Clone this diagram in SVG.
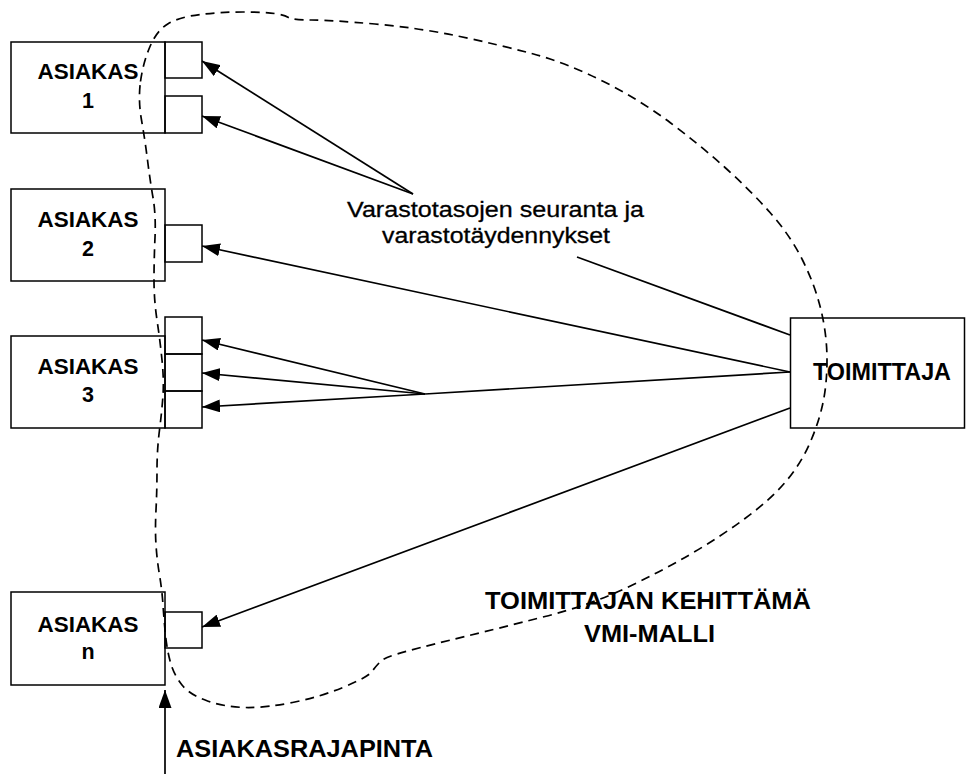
<svg xmlns="http://www.w3.org/2000/svg" width="966" height="774" viewBox="0 0 966 774">
  <style>
    .box { fill: none; stroke: #000; stroke-width: 1.5; }
    .lbl { font-family: "Liberation Sans", Arial, sans-serif; font-weight: bold; font-size: 21.5px; fill: #000; }
    .big { font-size: 24px; }
    .note { font-family: "Liberation Sans", Arial, sans-serif; font-size: 22px; fill: #000; stroke: #000; stroke-width: 0.3; }
    .conn { stroke: #000; stroke-width: 1.7; fill: none; }
    .arrow { marker-end: url(#head); }
    .boundary { fill: none; stroke: #000; stroke-width: 1.7; stroke-dasharray: 9 6; }
  </style>
  <defs>
    <marker id="head" markerUnits="userSpaceOnUse" markerWidth="18" markerHeight="13" refX="18" refY="6.5" orient="auto">
      <path d="M0,0 L18,6.5 L0,13 Z" fill="#000"/>
    </marker>
  </defs>
  <rect width="966" height="774" fill="#fff"/>

  <!-- customers, each with its interface slots -->
  <g id="asiakas-1">
    <rect class="box" x="11" y="42" width="154" height="91"/>
    <rect class="box" x="165" y="42" width="37" height="36"/>
    <rect class="box" x="165" y="96" width="37" height="37"/>
    <text class="lbl" x="88" y="79" text-anchor="middle" textLength="101" lengthAdjust="spacingAndGlyphs">ASIAKAS</text>
    <text class="lbl" x="88" y="108" text-anchor="middle">1</text>
  </g>
  <g id="asiakas-2">
    <rect class="box" x="11" y="189" width="154" height="92"/>
    <rect class="box" x="165" y="225" width="37" height="37"/>
    <text class="lbl" x="88" y="227" text-anchor="middle" textLength="101" lengthAdjust="spacingAndGlyphs">ASIAKAS</text>
    <text class="lbl" x="88" y="256" text-anchor="middle">2</text>
  </g>
  <g id="asiakas-3">
    <rect class="box" x="11" y="336" width="154" height="92"/>
    <rect class="box" x="165" y="317" width="37" height="37"/>
    <rect class="box" x="165" y="354" width="37" height="37"/>
    <rect class="box" x="165" y="391" width="37" height="37"/>
    <text class="lbl" x="88" y="374" text-anchor="middle" textLength="101" lengthAdjust="spacingAndGlyphs">ASIAKAS</text>
    <text class="lbl" x="88" y="402" text-anchor="middle">3</text>
  </g>
  <g id="asiakas-n">
    <rect class="box" x="11" y="592" width="154" height="93"/>
    <rect class="box" x="165" y="612" width="37" height="36"/>
    <text class="lbl" x="88" y="632" text-anchor="middle" textLength="101" lengthAdjust="spacingAndGlyphs">ASIAKAS</text>
    <text class="lbl" x="88" y="659" text-anchor="middle">n</text>
  </g>

  <!-- supplier -->
  <g id="toimittaja">
    <rect class="box" x="790.5" y="318" width="174" height="110"/>
    <text class="lbl big" x="813" y="380" textLength="138" lengthAdjust="spacingAndGlyphs">TOIMITTAJA</text>
  </g>

  <!-- connectors -->
  <g id="connectors">
    <line class="conn arrow" x1="413" y1="194" x2="202" y2="61"/>
    <line class="conn arrow" x1="413" y1="194" x2="202" y2="116"/>
    <line class="conn" x1="577" y1="257" x2="790" y2="335"/>
    <line class="conn arrow" x1="790" y1="372" x2="202" y2="246"/>
    <line class="conn" x1="790" y1="372" x2="425" y2="394"/>
    <line class="conn arrow" x1="425" y1="394" x2="202" y2="340"/>
    <line class="conn arrow" x1="425" y1="394" x2="202" y2="373"/>
    <line class="conn arrow" x1="425" y1="394" x2="202" y2="407"/>
    <line class="conn arrow" x1="790" y1="408" x2="202" y2="627"/>
    <line class="conn arrow" x1="165" y1="774" x2="165" y2="690"/>
  </g>

  <!-- dashed boundary of the VMI model -->
  <path id="vmi-boundary" class="boundary" d="M140.5,81.5
    Q143,63 150,46.5 Q157,30 168.5,23.5 Q180,17 200,14.5 Q220,12 242.5,12 Q265,12 274.5,13.5
    Q284,15 288.5,17.5 Q293,20 311.5,20 Q330,20 375,24 Q420,28 460,36.5 Q500,45 533.5,54
    Q567,63 603.5,81.5 Q640,100 670,122.5 Q700,145 725,167.5 Q750,190 770,212.5
    Q790,235 802.5,260 Q815,285 821,310 Q827,335 827,360 Q827,385 822.5,405
    Q818,425 809,445 Q800,465 785,482.5 Q770,500 745,518.5 Q720,537 690,554.5
    Q660,572 625,588.5 Q590,605 545,616.5 Q500,628 465,636.5 Q430,645 407.5,651
    Q385,657 380.5,661.5 Q376,666 372,671.5 Q368,677 344,687 Q320,697 292.5,702.5
    Q265,708 245,707.5 Q225,707 207.5,701 Q190,695 182,685 Q174,675 170.5,662.5
    Q167,650 165.5,635 Q164,620 163,605 Q162,590 159.5,575 Q157,560 156,545
    Q155,530 156,510 Q157,490 157,470 Q157,450 159.5,430 Q162,410 163,395
    Q164,380 162,360 Q160,340 157,320 Q154,300 154,280 Q154,260 155,237.5
    Q156,215 153,197.5 Q150,180 147.5,160 Q145,140 141.5,120 Q138,100 140.5,81.5 Z"/>

  <!-- free labels -->
  <text class="note" x="347" y="217" textLength="297" lengthAdjust="spacingAndGlyphs">Varastotasojen seuranta ja</text>
  <text class="note" x="382" y="243" textLength="228" lengthAdjust="spacingAndGlyphs">varastotäydennykset</text>
  <text class="lbl big" x="485" y="609" textLength="326" lengthAdjust="spacingAndGlyphs">TOIMITTAJAN KEHITTÄMÄ</text>
  <text class="lbl big" x="584" y="642" textLength="131" lengthAdjust="spacingAndGlyphs">VMI-MALLI</text>
  <text class="lbl big" x="176" y="757" textLength="257" lengthAdjust="spacingAndGlyphs">ASIAKASRAJAPINTA</text>
</svg>
